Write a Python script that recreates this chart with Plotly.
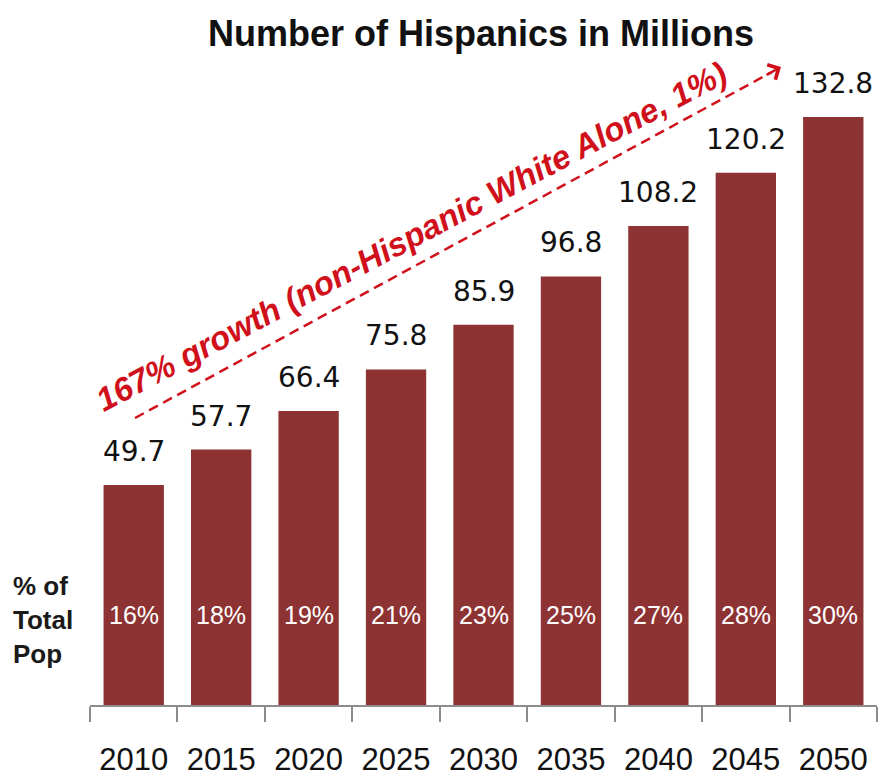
import plotly.graph_objects as go

years = ["2010", "2015", "2020", "2025", "2030", "2035", "2040", "2045", "2050"]
millions = [49.7, 57.7, 66.4, 75.8, 85.9, 96.8, 108.2, 120.2, 132.8]
pct_total = ["16%", "18%", "19%", "21%", "23%", "25%", "27%", "28%", "30%"]

W, H = 879, 778
L, R, T, B = 90, 2, 100, 73
PW, PH = W - L - R, H - T - B
YMAX = 136.66

def px(x):
    return (x - L) / PW

def py(y):
    return (H - B - y) / PH

BAR = "#8e3333"
RED = "#d0111b"

fig = go.Figure()
fig.add_trace(go.Bar(x=years, y=millions, marker=dict(color=BAR, line=dict(width=0)),
                     hoverinfo="skip"))

ann = []
for i, v in enumerate(millions):
    ann.append(dict(x=i, y=v, xref="x", yref="y", text=f"{v:.1f}", showarrow=False,
                    yanchor="bottom", yshift=15,
                    font=dict(family="DejaVu Sans", size=28, color="#111")))
for i, p in enumerate(pct_total):
    ann.append(dict(x=i, y=py(615), xref="x", yref="paper", text=p, showarrow=False,
                    yanchor="middle",
                    font=dict(family="Liberation Sans, Arial", size=25, color="white")))

ann.append(dict(x=px(11), y=py(620), xref="paper", yref="paper",
                text="<b>% of<br>Total<br>Pop</b>", showarrow=False, xanchor="left", yanchor="middle",
                align="left", font=dict(family="Liberation Sans, Arial", size=26, color="#1a1a1a"),
                ))

ann.append(dict(x=px(411), y=py(236), xref="paper", yref="paper",
                text="<b><i>167% growth (non-Hispanic White Alone, 1%)</i></b>",
                showarrow=False, textangle=-27.9, xanchor="center", yanchor="middle",
                font=dict(family="Liberation Sans, Arial", size=33, color=RED)))

# arrowhead at the end of dashed line
ann.append(dict(x=px(781), y=py(67), xref="paper", yref="paper", text="",
                showarrow=True, arrowhead=4, arrowsize=1.3, arrowwidth=2.5, arrowcolor=RED,
                ax=-16, ay=8.7))

shapes = [dict(type="line", xref="paper", yref="paper",
               x0=px(135), y0=py(418), x1=px(772), y1=py(72),
               line=dict(color=RED, width=2.5, dash="10px,6px"))]

fig.update_layout(
    width=W, height=H,
    margin=dict(l=L, r=R, t=T, b=B, pad=0),
    paper_bgcolor="white", plot_bgcolor="white",
    bargap=0.31,
    showlegend=False,
    title=dict(text="<b>Number of Hispanics in Millions</b>", x=481 / W, xref="container",
               xanchor="center", y=1 - 33 / H, yref="container", yanchor="middle",
               font=dict(family="Liberation Sans, Arial", size=36, color="#111")),
    annotations=ann,
    shapes=shapes,
    xaxis=dict(type="category", range=[-0.5, len(years) - 0.5],
               showline=True, linecolor="#8c8c8c", linewidth=2,
               ticks="outside", tickson="boundaries", ticklen=15, tickwidth=2, tickcolor="#8c8c8c",
               tickfont=dict(family="Liberation Sans, Arial", size=31, color="#111"),
               tickangle=0, automargin=False,
               ticklabelstandoff=26, showgrid=False, zeroline=False, fixedrange=True),
    yaxis=dict(range=[0, YMAX], visible=False, showgrid=False, zeroline=False, fixedrange=True),
)

fig.write_html("out.html")
